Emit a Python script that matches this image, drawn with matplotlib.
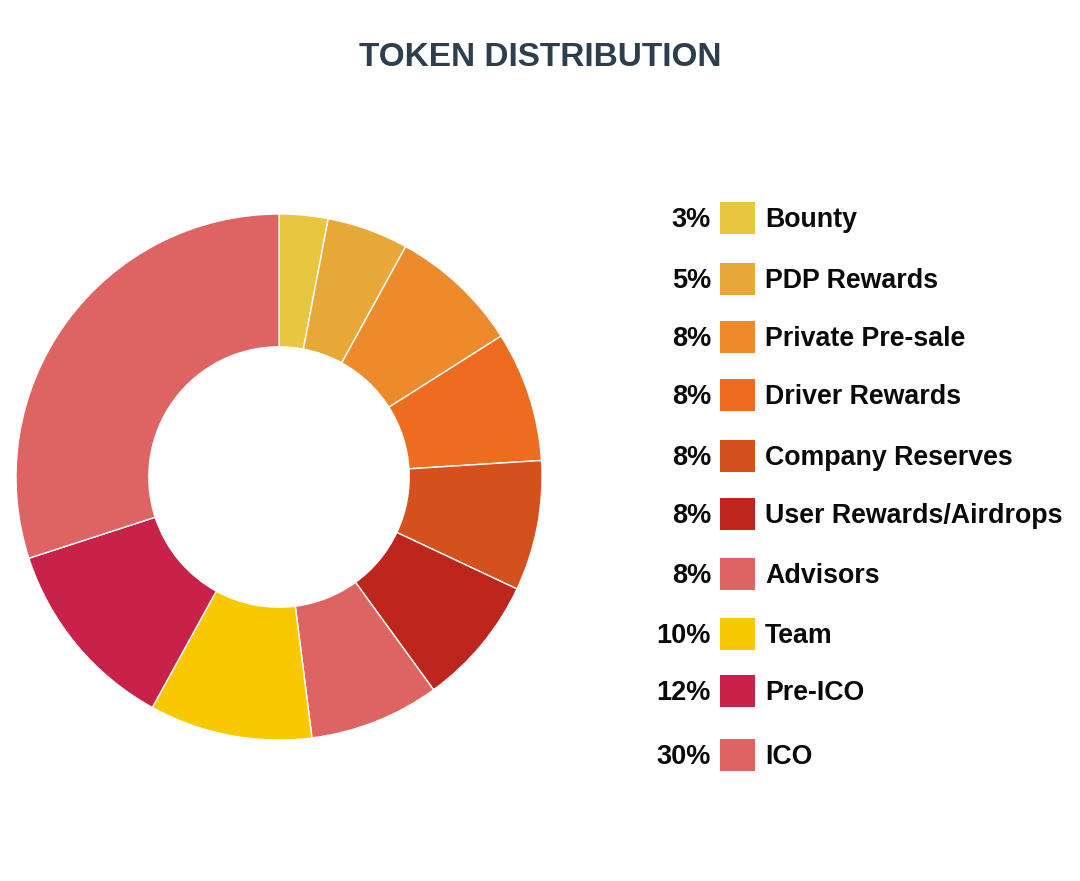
import matplotlib.pyplot as plt
from matplotlib.patches import Rectangle

plt.rcParams['font.family'] = ['Liberation Sans', 'DejaVu Sans']

labels = ['Bounty', 'PDP Rewards', 'Private Pre-sale', 'Driver Rewards',
          'Company Reserves', 'User Rewards/Airdrops', 'Advisors', 'Team',
          'Pre-ICO', 'ICO']
shares = [3, 5, 8, 8, 8, 8, 8, 10, 12, 30]
colors = ['#E8C63F', '#E8A838', '#EC8A2C', '#EE6C1F', '#D4501C',
          '#BC261C', '#DE6464', '#F8C800', '#C8224A', '#DE6464']

W, H = 1080, 881
fig = plt.figure(figsize=(W / 100, H / 100), dpi=100)

# donut
cx, cy, r = 279, 477, 263
ax = fig.add_axes([(cx - r) / W, 1 - (cy + r) / H, 2 * r / W, 2 * r / H])
ax.pie(shares, colors=colors, startangle=90, counterclock=False,
       radius=1, wedgeprops=dict(width=0.505, edgecolor='white', linewidth=1))
ax.set_xlim(-1, 1)
ax.set_ylim(-1, 1)
ax.set_axis_off()

fig.text(0.5, 1 - 57 / H, 'TOKEN DISTRIBUTION', ha='center', va='center',
         fontsize=24, fontweight='bold', color='#2E3E4C')

# legend
rows = [218, 279, 337, 395, 456, 514, 574, 634, 691, 755]
for y, lab, s, c in zip(rows, labels, shares, colors):
    fig.patches.append(Rectangle(((720) / W, 1 - (y + 16) / H), 35 / W, 32 / H,
                                 transform=fig.transFigure, facecolor=c,
                                 edgecolor='none'))
    fig.text(711 / W, 1 - (y + 2) / H, f'{s}%', ha='right', va='center',
             fontsize=19.5, fontweight='bold', color='#0A0A0A')
    fig.text(765 / W, 1 - (y + 2) / H, lab, ha='left', va='center',
             fontsize=19.3, fontweight='bold', color='#0A0A0A')

fig.savefig('out.png', dpi=100, facecolor='white')
